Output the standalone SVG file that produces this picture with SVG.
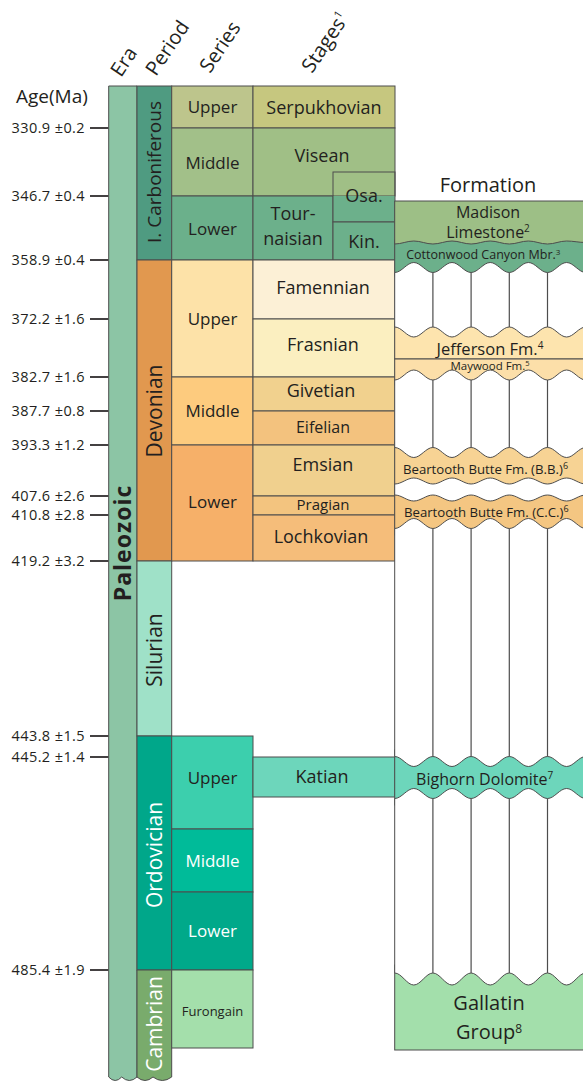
<svg xmlns="http://www.w3.org/2000/svg" width="583" height="1082" viewBox="0 0 583 1082">
<style>
text{font-family:"Open Sans","Liberation Sans",sans-serif;fill:#231f20}
.c{stroke:#4d4d4d;stroke-width:1}
.m{text-anchor:middle}
.w{fill:#ffffff}
.ser{font-size:17px}
.stg{font-size:18px}
.age{font-size:14.5px;text-anchor:end;letter-spacing:0.4px}
.tick{stroke:#231f20;stroke-width:1.7}
.hdr{font-size:20px}
.per{font-size:21px;text-anchor:middle}
.div{stroke:#4d4d4d;stroke-width:1.2}
.gap{fill:#ffffff;stroke:#4d4d4d;stroke-width:1}
</style>
<rect width="583" height="1082" fill="#ffffff"/>

<g id="headers">
<text x="16" y="103" style="font-size:19px">Age(Ma)</text>
<text class="hdr" transform="translate(121,78) rotate(-56)">Era</text>
<text class="hdr" transform="translate(156,77) rotate(-56)">Period</text>
<text class="hdr" transform="translate(210,74) rotate(-56)">Series</text>
<text class="hdr" transform="translate(312,74) rotate(-56)">Stages<tspan style="font-size:11px" dy="-8">1</tspan></text>
<text class="m" x="488" y="192" style="font-size:20px">Formation</text>
</g>

<g id="ages">
<line class="tick" x1="90" y1="128" x2="108.7" y2="128"/><text class="age" x="85" y="133">330.9 ±0.2</text>
<line class="tick" x1="90" y1="196" x2="108.7" y2="196"/><text class="age" x="85" y="201">346.7 ±0.4</text>
<line class="tick" x1="90" y1="260" x2="108.7" y2="260"/><text class="age" x="85" y="265">358.9 ±0.4</text>
<line class="tick" x1="90" y1="319" x2="108.7" y2="319"/><text class="age" x="85" y="324">372.2 ±1.6</text>
<line class="tick" x1="90" y1="377" x2="108.7" y2="377"/><text class="age" x="85" y="382">382.7 ±1.6</text>
<line class="tick" x1="90" y1="411" x2="108.7" y2="411"/><text class="age" x="85" y="416">387.7 ±0.8</text>
<line class="tick" x1="90" y1="445" x2="108.7" y2="445"/><text class="age" x="85" y="450">393.3 ±1.2</text>
<line class="tick" x1="90" y1="496" x2="108.7" y2="496"/><text class="age" x="85" y="501">407.6 ±2.6</text>
<line class="tick" x1="90" y1="515" x2="108.7" y2="515"/><text class="age" x="85" y="520">410.8 ±2.8</text>
<line class="tick" x1="90" y1="561" x2="108.7" y2="561"/><text class="age" x="85" y="566">419.2 ±3.2</text>
<line class="tick" x1="90" y1="736" x2="108.7" y2="736"/><text class="age" x="85" y="741">443.8 ±1.5</text>
<line class="tick" x1="90" y1="757" x2="108.7" y2="757"/><text class="age" x="85" y="762">445.2 ±1.4</text>
<line class="tick" x1="90" y1="970" x2="108.7" y2="970"/><text class="age" x="85" y="975">485.4 ±1.9</text>
</g>

<g id="era-paleozoic">
<path class="c" fill="#8cc5a5" d="M108.7,86 H137 V1077 Q129.3,1084 121.7,1077 Q115.2,1084 108.7,1077 Z"/>
<text transform="translate(122.8,543) rotate(-90)" dy="8" class="m" style="font-size:23px;font-weight:bold;letter-spacing:1px">Paleozoic</text>
</g>

<g id="period-carboniferous">
<rect class="c" x="137" y="86" width="34.7" height="174" fill="#4f9b81"/>
<text class="per" transform="translate(154.3,172) rotate(-90)" dy="7" style="font-size:19px">I. Carboniferous</text>
</g>
<g id="period-devonian">
<rect class="c" x="137" y="260" width="34.7" height="301" fill="#e1984f"/>
<text class="per" transform="translate(154.3,411) rotate(-90)" dy="7.5">Devonian</text>
</g>
<g id="period-silurian">
<rect class="c" x="137" y="561" width="34.7" height="175" fill="#9fe1c8"/>
<text class="per" transform="translate(154.3,650) rotate(-90)" dy="7.5">Silurian</text>
</g>
<g id="period-ordovician">
<rect class="c" x="137" y="736" width="34.7" height="234" fill="#00a78a"/>
<text class="per w" transform="translate(154.3,855) rotate(-90)" dy="7.5">Ordovician</text>
</g>
<g id="period-cambrian">
<path class="c" fill="#79ab6c" d="M137,970 H171.7 V1077 Q162.3,1084 153,1077 Q145,1084 137,1077 Z"/>
<text class="per w" transform="translate(154.3,1024) rotate(-90)" dy="7.5">Cambrian</text>
</g>

<g id="series">
<g id="s-carb-upper"><rect class="c" x="171.7" y="86" width="81.3" height="42" fill="#bdc58c"/><text class="ser m" x="212.5" y="113">Upper</text></g>
<g id="s-carb-middle"><rect class="c" x="171.7" y="128" width="81.3" height="68" fill="#a2c089"/><text class="ser m" x="212.5" y="168.5">Middle</text></g>
<g id="s-carb-lower"><rect class="c" x="171.7" y="196" width="81.3" height="64" fill="#6bb08b"/><text class="ser m" x="212.5" y="235">Lower</text></g>
<g id="s-dev-upper"><rect class="c" x="171.7" y="260" width="81.3" height="117" fill="#fde2a8"/><text class="ser m" x="212.5" y="325">Upper</text></g>
<g id="s-dev-middle"><rect class="c" x="171.7" y="377" width="81.3" height="68" fill="#fdcb7e"/><text class="ser m" x="212.5" y="416.5">Middle</text></g>
<g id="s-dev-lower"><rect class="c" x="171.7" y="445" width="81.3" height="116" fill="#f6b069"/><text class="ser m" x="212.5" y="508">Lower</text></g>
<g id="s-ord-upper"><rect class="c" x="171.7" y="736" width="81.3" height="93" fill="#3ccfad"/><text class="ser m" x="212.5" y="784">Upper</text></g>
<g id="s-ord-middle"><rect class="c" x="171.7" y="829" width="81.3" height="63" fill="#00bb99"/><text class="ser m w" x="212.5" y="867">Middle</text></g>
<g id="s-ord-lower"><rect class="c" x="171.7" y="892" width="81.3" height="78" fill="#00a98a"/><text class="ser m w" x="212.5" y="937">Lower</text></g>
<g id="s-furongian"><rect class="c" x="171.7" y="970" width="81.3" height="78" fill="#a4dfab"/><text class="m" x="212.5" y="1016" style="font-size:13px">Furongain</text></g>
</g>

<g id="stages">
<g id="st-serpukhovian"><rect class="c" x="253" y="86" width="142" height="42" fill="#c6c77f"/><text class="stg m" x="324" y="114.3">Serpukhovian</text></g>
<g id="st-visean"><rect class="c" x="253" y="128" width="142" height="68" fill="#a0bf86"/><text class="stg m" x="322" y="162.3">Visean</text></g>
<g id="st-tournaisian"><rect class="c" x="253" y="196" width="80" height="64" fill="#6cb08b"/><text class="stg m" x="293" y="220.3">Tour-</text><text class="stg m" x="293" y="245.3">naisian</text></g>
<g id="st-osa"><rect x="333" y="196" width="62" height="26" fill="#6cb08b"/><rect class="c" x="333" y="172" width="62" height="50" fill="none"/><text class="stg m" x="364" y="202.3">Osa.</text></g>
<g id="st-kin"><rect class="c" x="333" y="222" width="62" height="38" fill="#6cb08b"/><text class="stg m" x="364" y="248">Kin.</text></g>
<g id="st-famennian"><rect class="c" x="253" y="260" width="142" height="59" fill="#fcf0d6"/><text class="stg m" x="323" y="294.3">Famennian</text></g>
<g id="st-frasnian"><rect class="c" x="253" y="319" width="142" height="58" fill="#fbefc0"/><text class="stg m" x="323" y="351.3">Frasnian</text></g>
<g id="st-givetian"><rect class="c" x="253" y="377" width="142" height="34" fill="#f1d18e"/><text class="stg m" x="321" y="397">Givetian</text></g>
<g id="st-eifelian"><rect class="c" x="253" y="411" width="142" height="34" fill="#f3c27e"/><text class="m" x="323" y="432.6" style="font-size:16px">Eifelian</text></g>
<g id="st-emsian"><rect class="c" x="253" y="445" width="142" height="51" fill="#f0d08e"/><text class="stg m" x="323" y="471.3">Emsian</text></g>
<g id="st-pragian"><rect class="c" x="253" y="496" width="142" height="19" fill="#f3c47f"/><text class="m" x="323" y="509.5" style="font-size:15px">Pragian</text></g>
<g id="st-lochkovian"><rect class="c" x="253" y="515" width="142" height="46" fill="#f5bd7a"/><text class="stg m" x="321" y="543">Lochkovian</text></g>
<g id="st-katian"><rect class="c" x="253" y="757" width="142" height="40" fill="#6dd6bb"/><text class="stg m" x="322" y="783.3">Katian</text></g>
</g>

<g id="formations">
<g id="f-cottonwood"><rect class="c" x="394.7" y="240" width="200" height="36" fill="#6cb08b"/></g>
<g id="f-madison"><path class="c" fill="#9dbf86" d="M394.7,201 H595 V242.5 L585.7,242.5 C578.8,242.5 573.5,241 566.6,241 S554.4,244 547.5,244 S535.3,241 528.4,241 S516.2,244 509.3,244 S497.1,241 490.2,241 S478,244 471.1,244 S458.9,241 452,241 S439.8,244 432.9,244 S420.7,241 413.8,241 S401.6,244 394.7,244 Z"/></g>
<g id="f-jefferson"><rect class="c" x="394.7" y="322" width="200" height="37" fill="#fde4ae"/></g>
<g id="f-maywood"><rect class="c" x="394.7" y="359" width="200" height="26" fill="#fcdfa9"/></g>
<g id="f-bb"><rect class="c" x="394.7" y="442" width="200" height="48" fill="#f7d394"/></g>
<g id="f-cc"><rect class="c" x="394.7" y="490" width="200" height="45" fill="#f4c682"/></g>
<g id="f-bighorn"><rect class="c" x="394.7" y="750" width="200" height="55" fill="#6dd6bb"/></g>
<g id="f-gallatin"><rect class="c" x="394.7" y="965" width="200" height="85" fill="#a3dfab"/></g>

<g id="gaps">
<path class="gap" d="M394.7,272.5 C401.6,272.5 406.9,262.5 413.8,262.5 S426,272.5 432.9,272.5 S445.1,262.5 452,262.5 S464.2,272.5 471.1,272.5 S483.3,262.5 490.2,262.5 S502.4,272.5 509.3,272.5 S521.5,262.5 528.4,262.5 S540.6,272.5 547.5,272.5 S559.7,262.5 566.6,262.5 S578.8,272.5 585.7,272.5 L585.7,327 C578.8,327 573.5,337 566.6,337 S554.4,327 547.5,327 S535.3,337 528.4,337 S516.2,327 509.3,327 S497.1,337 490.2,337 S478,327 471.1,327 S458.9,337 452,337 S439.8,327 432.9,327 S420.7,337 413.8,337 S401.6,327 394.7,327 Z"/>
<path class="gap" d="M394.7,380 C401.6,380 406.9,370 413.8,370 S426,380 432.9,380 S445.1,370 452,370 S464.2,380 471.1,380 S483.3,370 490.2,370 S502.4,380 509.3,380 S521.5,370 528.4,370 S540.6,380 547.5,380 S559.7,370 566.6,370 S578.8,380 585.7,380 L585.7,447.5 C578.8,447.5 573.5,457.5 566.6,457.5 S554.4,447.5 547.5,447.5 S535.3,457.5 528.4,457.5 S516.2,447.5 509.3,447.5 S497.1,457.5 490.2,457.5 S478,447.5 471.1,447.5 S458.9,457.5 452,457.5 S439.8,447.5 432.9,447.5 S420.7,457.5 413.8,457.5 S401.6,447.5 394.7,447.5 Z"/>
<path class="gap" d="M394.7,484 C401.6,484 406.9,478 413.8,478 S426,484 432.9,484 S445.1,478 452,478 S464.2,484 471.1,484 S483.3,478 490.2,478 S502.4,484 509.3,484 S521.5,478 528.4,478 S540.6,484 547.5,484 S559.7,478 566.6,478 S578.8,484 585.7,484 L585.7,495 C578.8,495 573.5,501 566.6,501 S554.4,495 547.5,495 S535.3,501 528.4,501 S516.2,495 509.3,495 S497.1,501 490.2,501 S478,495 471.1,495 S458.9,501 452,501 S439.8,495 432.9,495 S420.7,501 413.8,501 S401.6,495 394.7,495 Z"/>
<path class="gap" d="M394.7,528.5 C401.6,528.5 406.9,518.5 413.8,518.5 S426,528.5 432.9,528.5 S445.1,518.5 452,518.5 S464.2,528.5 471.1,528.5 S483.3,518.5 490.2,518.5 S502.4,528.5 509.3,528.5 S521.5,518.5 528.4,518.5 S540.6,528.5 547.5,528.5 S559.7,518.5 566.6,518.5 S578.8,528.5 585.7,528.5 L585.7,756.5 C578.8,756.5 573.5,766.5 566.6,766.5 S554.4,756.5 547.5,756.5 S535.3,766.5 528.4,766.5 S516.2,756.5 509.3,756.5 S497.1,766.5 490.2,766.5 S478,756.5 471.1,756.5 S458.9,766.5 452,766.5 S439.8,756.5 432.9,756.5 S420.7,766.5 413.8,766.5 S401.6,756.5 394.7,756.5 Z"/>
<path class="gap" d="M394.7,798.5 C401.6,798.5 406.9,788.5 413.8,788.5 S426,798.5 432.9,798.5 S445.1,788.5 452,788.5 S464.2,798.5 471.1,798.5 S483.3,788.5 490.2,788.5 S502.4,798.5 509.3,798.5 S521.5,788.5 528.4,788.5 S540.6,798.5 547.5,798.5 S559.7,788.5 566.6,788.5 S578.8,798.5 585.7,798.5 L585.7,973 C578.8,973 573.5,985 566.6,985 S554.4,973 547.5,973 S535.3,985 528.4,985 S516.2,973 509.3,973 S497.1,985 490.2,985 S478,973 471.1,973 S458.9,985 452,985 S439.8,973 432.9,973 S420.7,985 413.8,985 S401.6,973 394.7,973 Z"/>
</g>
<g id="dividers">
<path class="div" d="M432.9,272.5V327M471.1,272.5V327M509.3,272.5V327M547.5,272.5V327"/>
<path class="div" d="M432.9,380V447.5M471.1,380V447.5M509.3,380V447.5M547.5,380V447.5"/>
<path class="div" d="M432.9,528.5V756.5M471.1,528.5V756.5M509.3,528.5V756.5M547.5,528.5V756.5"/>
<path class="div" d="M432.9,798.5V973M471.1,798.5V973M509.3,798.5V973M547.5,798.5V973"/>
</g>

<g id="formation-labels">
<text class="m" x="488" y="218" style="font-size:16px">Madison</text>
<text class="m" x="488" y="238" style="font-size:16px">Limestone<tspan style="font-size:10px" dy="-6">2</tspan></text>
<text class="m" x="483.3" y="258.7" style="font-size:12.5px">Cottonwood Canyon Mbr.<tspan style="font-size:8px" dy="-4">3</tspan></text>
<text class="m" x="490" y="354.8" style="font-size:16.5px">Jefferson Fm.<tspan style="font-size:10px" dy="-6">4</tspan></text>
<text class="m" x="490" y="370" style="font-size:11.5px">Maywood Fm.<tspan style="font-size:7.5px" dy="-4">5</tspan></text>
<text class="m" x="485.5" y="474" style="font-size:13.2px">Beartooth Butte Fm. (B.B.)<tspan style="font-size:9px" dy="-5">6</tspan></text>
<text class="m" x="486.3" y="516.6" style="font-size:13.2px">Beartooth Butte Fm. (C.C.)<tspan style="font-size:9px" dy="-5">6</tspan></text>
<text class="m" x="484.7" y="785" style="font-size:16px">Bighorn Dolomite<tspan style="font-size:10px" dy="-6">7</tspan></text>
<text class="m" x="489" y="1010" style="font-size:20px">Gallatin</text>
<text class="m" x="489" y="1038.7" style="font-size:20px">Group<tspan style="font-size:12px" dy="-6">8</tspan></text>
</g>
</g>
</svg>
